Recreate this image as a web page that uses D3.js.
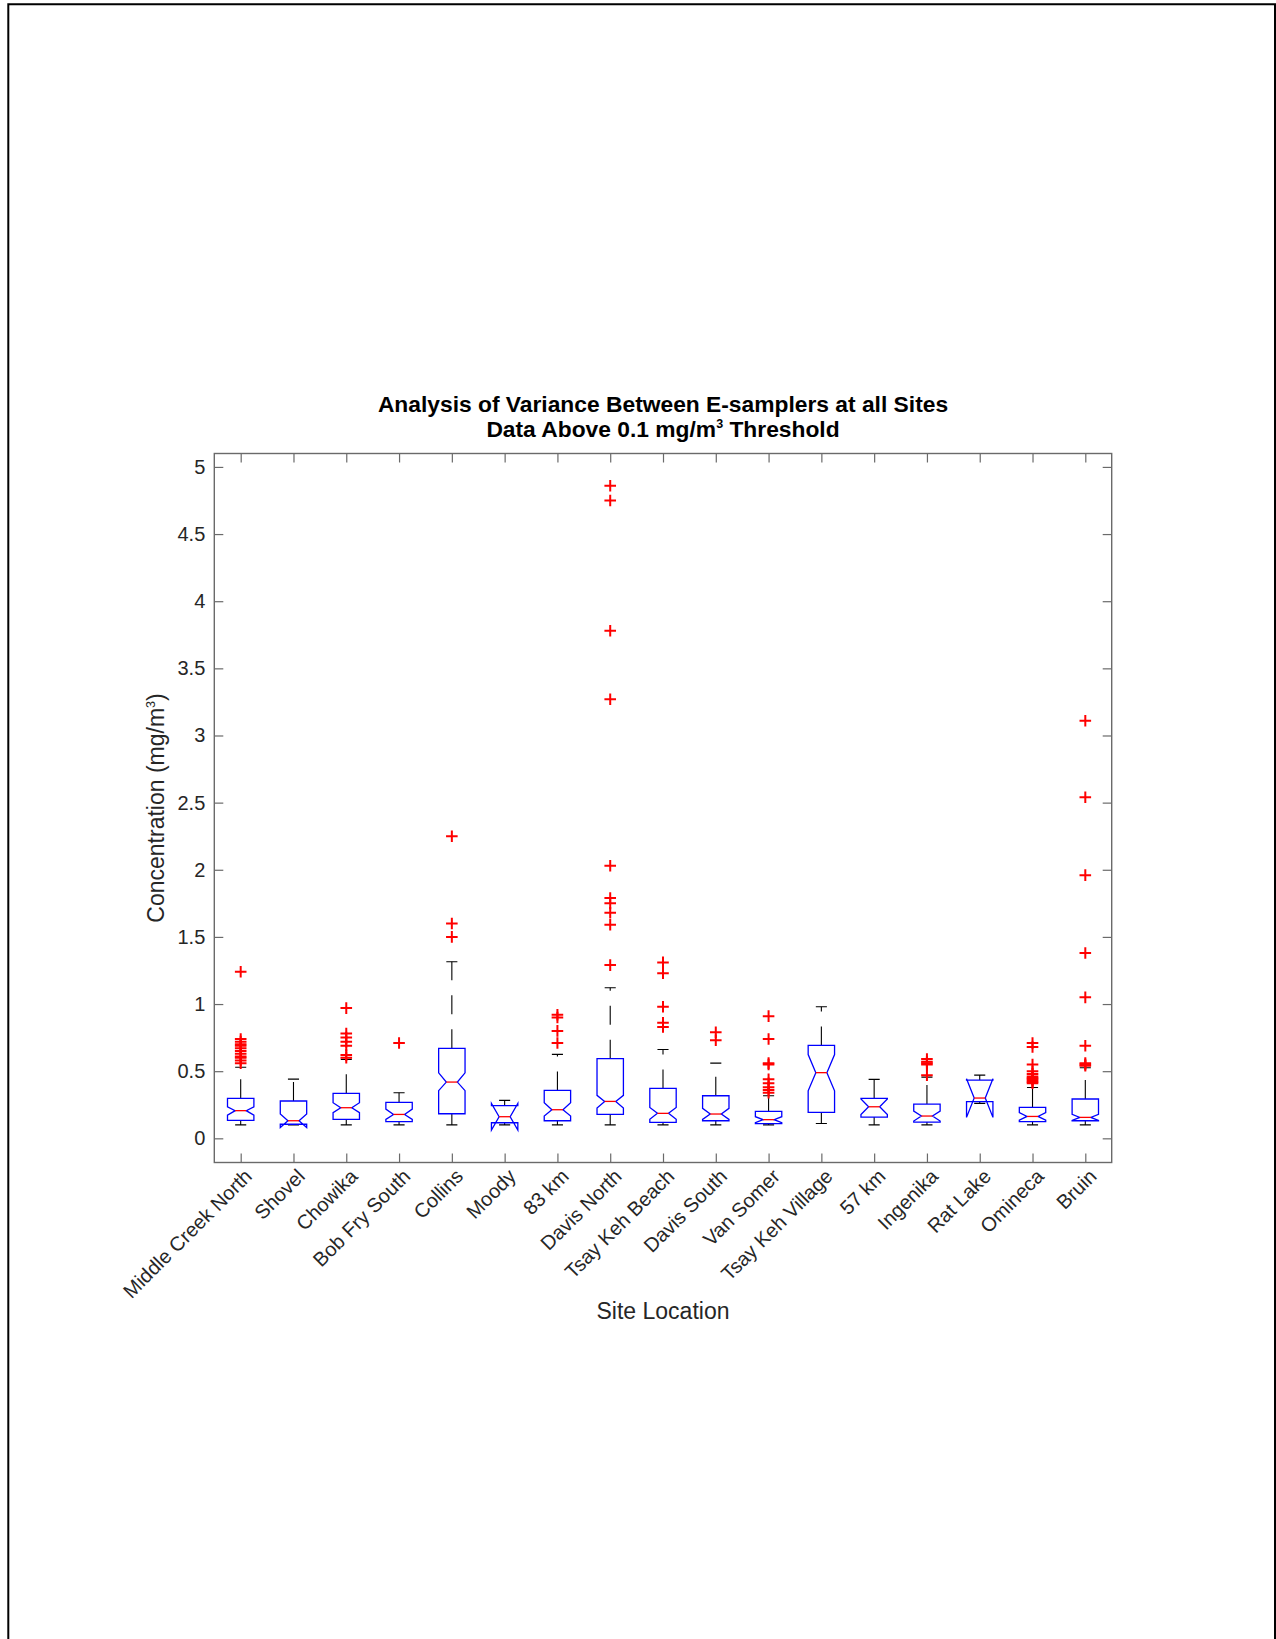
<!DOCTYPE html>
<html>
<head>
<meta charset="utf-8">
<script src="https://cdn.jsdelivr.net/npm/d3@7"></script>
<style>
  html, body { margin: 0; padding: 0; background: #fff; }
  svg { display: block; }
  text { font-family: "Liberation Sans", Arial, Helvetica, sans-serif; }
</style>
</head>
<body>
<svg id="chart" width="1276" height="1639"></svg>
<script>
// site names along the x axis
const sites = ['Middle Creek North', 'Shovel', 'Chowika', 'Bob Fry South', 'Collins', 'Moody',
  '83 km', 'Davis North', 'Tsay Keh Beach', 'Davis South', 'Van Somer', 'Tsay Keh Village',
  '57 km', 'Ingenika', 'Rat Lake', 'Omineca', 'Bruin'];

// box statistics (mg/m3)
const whiskerLow = [0.10, 0.10, 0.10, 0.10, 0.10, 0.10, 0.10, 0.10, 0.10, 0.10, 0.10, 0.11, 0.10, 0.10, 0.26, 0.10, 0.10];
const q1 = [0.134, 0.105, 0.141, 0.124, 0.183, 0.116, 0.131, 0.178, 0.119, 0.131, 0.109, 0.193, 0.158, 0.121, 0.273, 0.124, 0.131];
const median = [0.206, 0.131, 0.228, 0.178, 0.419, 0.161, 0.213, 0.275, 0.186, 0.181, 0.139, 0.489, 0.235, 0.166, 0.300, 0.163, 0.156];
const q3 = [0.298, 0.278, 0.335, 0.268, 0.670, 0.243, 0.357, 0.593, 0.372, 0.317, 0.201, 0.692, 0.298, 0.255, 0.434, 0.230, 0.293];
const whiskerHigh = [0.529, 0.441, 0.588, 0.339, 1.315, 0.283, 0.625, 1.121, 0.662, 0.560, 0.317, 0.980, 0.439, 0.456, 0.471, 0.379, 0.526];
const notchLow = [0.173, 0.081, 0.191, 0.141, 0.355, 0.062, 0.166, 0.225, 0.142, 0.141, 0.117, 0.354, 0.177, 0.129, 0.156, 0.136, 0.134];
const notchHigh = [0.235, 0.181, 0.265, 0.218, 0.488, 0.260, 0.265, 0.320, 0.230, 0.223, 0.161, 0.624, 0.293, 0.203, 0.444, 0.191, 0.178];

// outliers per site
const outliers = [
  [0.56, 0.58, 0.60, 0.61, 0.63, 0.65, 0.67, 0.69, 0.70, 0.72, 0.74, 1.24],
  [],
  [0.60, 0.62, 0.69, 0.72, 0.75, 0.78, 0.97],
  [0.71],
  [1.50, 1.60, 2.25],
  [],
  [0.71, 0.80, 0.90, 0.92],
  [1.29, 1.59, 1.68, 1.75, 1.79, 2.03, 3.27, 3.78, 4.75, 4.86],
  [0.83, 0.86, 0.98, 1.23, 1.31],
  [0.73, 0.79],
  [0.34, 0.36, 0.38, 0.41, 0.44, 0.55, 0.56, 0.74, 0.91],
  [],
  [],
  [0.47, 0.55, 0.56, 0.57, 0.59],
  [],
  [0.41, 0.42, 0.43, 0.44, 0.45, 0.46, 0.48, 0.50, 0.55, 0.68, 0.71],
  [0.54, 0.55, 0.56, 0.69, 1.05, 1.38, 1.96, 2.54, 3.11]
];

const yTicks = [0, 0.5, 1, 1.5, 2, 2.5, 3, 3.5, 4, 4.5, 5];

const svg = d3.select('#chart');

// page frame (left, top, right edges)
svg.append('path')
  .attr('d', 'M8.3,1639V4.3H1275V1639')
  .attr('fill', 'none')
  .attr('stroke', '#000')
  .attr('stroke-width', 2);

const plotLeft = 214.3, plotRight = 1111.7, plotTop = 453.5, plotBottom = 1162.5;

const x = d3.scaleLinear().domain([0.5, sites.length + 0.5]).range([plotLeft, plotRight]);
const y = d3.scaleLinear().domain([-0.18, 5.1]).range([plotBottom, plotTop]);

const data = sites.map((s, i) => ({
  site: s, pos: i + 1,
  lo: whiskerLow[i], q1: q1[i], med: median[i], q3: q3[i], hi: whiskerHigh[i],
  nlo: notchLow[i], nhi: notchHigh[i], out: outliers[i]
}));

const axisColor = '#6a6a6a';
const textColor = '#262626';

// axes (ticks point inwards, mirrored on top and right)
const yAxis = svg.append('g')
  .attr('transform', `translate(${plotLeft},0)`)
  .call(d3.axisLeft(y).tickValues(yTicks).tickFormat(d => String(d)).tickSize(-9).tickSizeOuter(0).tickPadding(9));
const yAxisR = svg.append('g')
  .attr('transform', `translate(${plotRight},0)`)
  .call(d3.axisRight(y).tickValues(yTicks).tickFormat('').tickSize(-9).tickSizeOuter(0));
const xAxis = svg.append('g')
  .attr('transform', `translate(0,${plotBottom})`)
  .call(d3.axisBottom(x).tickValues(data.map(d => d.pos)).tickFormat((d, i) => sites[i]).tickSize(-9).tickSizeOuter(0));
const xAxisT = svg.append('g')
  .attr('transform', `translate(0,${plotTop})`)
  .call(d3.axisTop(x).tickValues(data.map(d => d.pos)).tickFormat('').tickSize(-9).tickSizeOuter(0));

[yAxis, yAxisR, xAxis, xAxisT].forEach(g => {
  g.select('.domain').remove();
  g.selectAll('line').attr('stroke', axisColor).attr('stroke-width', 1.2);
  g.selectAll('text').attr('fill', textColor).style('font-size', '20px')
    .style('font-family', '"Liberation Sans", Arial, Helvetica, sans-serif');
});

xAxis.selectAll('text')
  .attr('x', 0).attr('y', 0).attr('dy', '0.71em')
  .attr('text-anchor', 'end')
  .attr('transform', 'translate(2,5) rotate(-45)');

svg.append('rect')
  .attr('x', plotLeft).attr('y', plotTop)
  .attr('width', plotRight - plotLeft).attr('height', plotBottom - plotTop)
  .attr('fill', 'none')
  .attr('stroke', axisColor)
  .attr('stroke-width', 1.4);

// box plots
const halfW = 0.25, notchW = 0.105, capW = 0.105;
const boxes = svg.append('g');

const g = boxes.selectAll('g.box').data(data).enter().append('g').attr('class', 'box');

// whiskers: dashed, pattern starts at the box edge
g.append('path')
  .attr('d', d => `M${x(d.pos)},${y(d.q3)}V${y(d.hi)}`)
  .attr('stroke', '#000').attr('stroke-width', 1.1).attr('fill', 'none')
  .attr('stroke-dasharray', '19,15');
g.append('path')
  .attr('d', d => `M${x(d.pos)},${y(d.q1)}V${y(d.lo)}`)
  .attr('stroke', '#000').attr('stroke-width', 1.1).attr('fill', 'none')
  .attr('stroke-dasharray', '19,15');
g.append('path')
  .attr('d', d => `M${x(d.pos - capW)},${y(d.hi)}H${x(d.pos + capW)}M${x(d.pos - capW)},${y(d.lo)}H${x(d.pos + capW)}`)
  .attr('stroke', '#000').attr('stroke-width', 1.1).attr('fill', 'none');

// notched box outline
g.append('path')
  .attr('d', d => {
    const pts = [
      [d.pos - halfW, d.q1], [d.pos - halfW, d.nlo], [d.pos - notchW, d.med], [d.pos - halfW, d.nhi],
      [d.pos - halfW, d.q3], [d.pos + halfW, d.q3], [d.pos + halfW, d.nhi], [d.pos + notchW, d.med],
      [d.pos + halfW, d.nlo], [d.pos + halfW, d.q1]
    ];
    return d3.line().x(p => x(p[0])).y(p => y(p[1]))(pts) + 'Z';
  })
  .attr('fill', 'none').attr('stroke', '#0000ff').attr('stroke-width', 1.3);

g.append('line')
  .attr('x1', d => x(d.pos - notchW)).attr('x2', d => x(d.pos + notchW))
  .attr('y1', d => y(d.med)).attr('y2', d => y(d.med))
  .attr('stroke', '#ff0000').attr('stroke-width', 1.3);

// outlier crosses
const s = 5.8;
g.selectAll('path.out').data(d => d.out.map(v => ({ pos: d.pos, v }))).enter()
  .append('path').attr('class', 'out')
  .attr('d', o => `M${x(o.pos) - s},${y(o.v)}H${x(o.pos) + s}M${x(o.pos)},${y(o.v) - s}V${y(o.v) + s}`)
  .attr('stroke', '#ff0000').attr('stroke-width', 2).attr('fill', 'none');

// labels
const cx = (plotLeft + plotRight) / 2;
const title = svg.append('text')
  .attr('x', cx).attr('y', 412)
  .attr('text-anchor', 'middle')
  .style('font-size', '22.8px').style('font-weight', 'bold').attr('fill', '#000');
title.append('tspan').attr('x', cx).text('Analysis of Variance Between E-samplers at all Sites');
const t2 = title.append('tspan').attr('x', cx).attr('dy', 24.5);
t2.append('tspan').text('Data Above 0.1 mg/m');
t2.append('tspan').attr('dy', -9).style('font-size', '12.5px').text('3');
t2.append('tspan').attr('dy', 9).text(' Threshold');

svg.append('text')
  .attr('x', cx).attr('y', 1318.5)
  .attr('text-anchor', 'middle')
  .style('font-size', '23px').attr('fill', textColor)
  .text('Site Location');

const yl = svg.append('text')
  .attr('transform', `translate(164,${(plotTop + plotBottom) / 2}) rotate(-90)`)
  .attr('text-anchor', 'middle')
  .style('font-size', '23px').attr('fill', textColor);
yl.append('tspan').text('Concentration (mg/m');
yl.append('tspan').attr('dy', -9).style('font-size', '12.5px').text('3');
yl.append('tspan').attr('dy', 9).text(')');
</script>
</body>
</html>
